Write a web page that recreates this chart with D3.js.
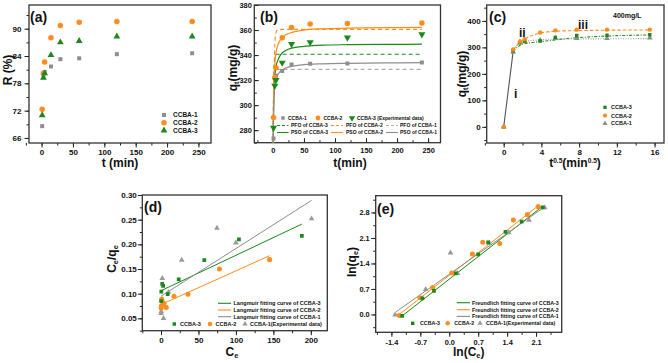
<!DOCTYPE html>
<html>
<head>
<meta charset="utf-8">
<script src="https://cdn.jsdelivr.net/npm/d3@7"></script>
<style>
  body { margin: 0; background: #fff; }
  text { font-family: "Liberation Sans", Arial, sans-serif; font-weight: bold; fill: #111; }
  .axis line { stroke: #222; }
</style>
</head>
<body>
<svg id="chart" width="668" height="363"></svg>
<script>
const GRAY = '#8e8e8e', ORANGE = '#ff8c1e', GREEN = '#1b8a1b';

// ---- (a) removal vs time
const aTime = [1, 3, 5, 15, 30, 60, 120, 240];
const aR1 = [68.6, 79.9, 80.5, 81.7, 83.3, 83.5, 84.4, 84.6];
const aR2 = [72.3, 80.2, 82.7, 88.0, 90.7, 91.4, 91.6, 91.6];
const aR3 = [71.0, 79.2, 80.2, 84.2, 87.0, 87.3, 88.3, 88.3];

// ---- (b) kinetics, experimental
const bTime = [1, 3, 5, 15, 30, 60, 120, 240];
const bQ1 = [273.4, 322.0, 323.5, 327.2, 332.5, 333.0, 333.3, 334.0];
const bQ2 = [290.1, 321.9, 329.9, 353.9, 362.1, 364.8, 365.3, 365.6];
const bQ3 = [281.9, 315.5, 320.0, 333.9, 348.8, 350.1, 354.0, 356.5];
// fitted curves
const fitTime = [0.3, 1, 2, 3, 5, 8, 12, 20, 30, 50, 80, 120, 180, 240];
const psoQ1 = [262, 290, 308, 315, 321, 324.5, 327, 329.5, 331, 332.3, 333, 333.4, 333.7, 333.9];
const psoQ2 = [262, 305, 325, 333, 342, 348, 352, 356, 358, 360, 361, 361.5, 362, 362.2];
const psoQ3 = [262, 295, 315, 323, 331, 336, 340, 343.5, 345.5, 347, 348, 348.3, 348.5, 348.7];
const pfoTime = [0.3, 1, 2, 3, 4, 6, 10, 240];
const pfoQ1 = [262, 305, 320, 326, 327.8, 328.5, 328.6, 328.6];
const pfoQ2 = [262, 300, 330, 347, 355, 359.5, 360.5, 360.5];
const pfoQ3 = [262, 310, 330, 337, 339.5, 340.6, 340.7, 340.7];

// ---- (c) intraparticle diffusion
const cX = [0, 1, 1.732, 2.236, 3.873, 5.477, 7.746, 10.954, 15.492];
const cQ1 = [0, 282, 321, 322, 327, 335, 334, 334, 336];
const cQ2 = [0, 292, 322, 331, 356, 364, 367, 367, 367];
const cQ3 = [0, 287, 317, 325, 324, 337, 345, 346, 347.5];
const cLineX1 = [1, 1.732, 3, 5.5, 15.5];
const cLineY1 = [283, 318, 326, 331, 333];
const cLineX2 = [1, 1.5, 2.236, 3.873, 6, 15.5];
const cLineY2 = [290, 312, 331, 354, 362, 366];
const cLineX3 = [1, 2, 4, 8, 15.5];
const cLineY3 = [285, 312, 322, 337, 347];

// ---- (d) Langmuir
const dC3 = [0.3, 0.4, 1.6, 2.8, 8.9, 23.6, 57.8, 104, 188];
const dV3 = [0.085, 0.104, 0.120, 0.116, 0.099, 0.129, 0.168, 0.210, 0.217];
const dC2 = [0.2, 0.5, 1.0, 2.5, 4.0, 7.0, 17.3, 36, 78, 145];
const dV2 = [0.071, 0.075, 0.089, 0.082, 0.080, 0.072, 0.095, 0.099, 0.150, 0.169];
const dC1 = [0.1, 0.3, 0.5, 1.7, 3.3, 9.9, 27.6, 74.7, 100, 201];
const dV1 = [0.060, 0.064, 0.087, 0.131, 0.050, 0.103, 0.168, 0.233, 0.203, 0.252];
const dFitC3 = [0, 188], dFitV3 = [0.106, 0.241];
const dFitC2 = [0, 145], dFitV2 = [0.078, 0.177];
const dFitC1 = [0, 201], dFitV1 = [0.095, 0.289];

// ---- (e) Freundlich
const eX3 = [-1.14, -0.65, -0.37, 0.16, 0.70, 0.94, 1.36, 1.75, 2.26];
const eY3 = [-0.04, 0.44, 0.65, 1.13, 1.65, 1.98, 2.27, 2.55, 2.94];
const eX2 = [-1.21, -0.71, -0.40, 0.06, 0.56, 0.81, 1.22, 1.55, 1.89, 2.15];
const eY2 = [-0.03, 0.46, 0.74, 1.14, 1.66, 1.98, 1.95, 2.59, 2.74, 2.96];
const eX1 = [-1.31, -0.57, 0.03, 0.20, 0.97, 1.44, 1.93, 2.31];
const eY1 = [-0.01, 0.69, 1.69, 1.13, 1.96, 2.25, 2.59, 2.93];
const eFitX3 = [-1.14, 2.26], eFitY3 = [-0.04, 2.97];
const eFitX2 = [-1.21, 2.15], eFitY2 = [0.0, 2.98];
const eFitX1 = [-1.29, 2.29], eFitY1 = [0.07, 2.94];

const svg = d3.select('#chart');
let clipId = 0;

function makePanel(p) {
  const x = d3.scaleLinear().domain(p.xDomain).range([p.left, p.right]);
  const y = d3.scaleLinear().domain(p.yDomain).range([p.bottom, p.top]);
  const g = svg.append('g');
  const dir = p.inward ? -1 : 1;

  const xa = g.append('g').attr('class', 'axis').attr('transform', `translate(0,${p.bottom})`).attr('font-size', p.fs);
  xa.append('g').call(d3.axisBottom(x).tickValues(p.xMinor).tickSize(2.5 * dir).tickFormat(''));
  xa.append('g').call(d3.axisBottom(x).tickValues(p.xTicks).tickSize(4.5 * dir).tickPadding(p.xPad).tickFormat(p.xFmt));
  const ya = g.append('g').attr('class', 'axis').attr('transform', `translate(${p.left},0)`).attr('font-size', p.fs);
  ya.append('g').call(d3.axisLeft(y).tickValues(p.yMinor).tickSize(2.5 * dir).tickFormat(''));
  ya.append('g').call(d3.axisLeft(y).tickValues(p.yTicks).tickSize(4.5 * dir).tickPadding(p.yPad).tickFormat(p.yFmt));
  g.selectAll('.domain').remove();
  g.selectAll('.axis text').attr('font-size', p.fs).attr('font-family', null);

  g.append('rect')
    .attr('x', p.left).attr('y', p.top)
    .attr('width', p.right - p.left).attr('height', p.bottom - p.top)
    .attr('fill', 'none').attr('stroke', '#333').attr('stroke-width', 1.3);

  const id = 'clip' + (clipId++);
  g.append('clipPath').attr('id', id).append('rect')
    .attr('x', p.left).attr('y', p.top)
    .attr('width', p.right - p.left).attr('height', p.bottom - p.top);
  const plot = g.append('g').attr('clip-path', `url(#${id})`);

  g.append('text').attr('x', p.letter[0]).attr('y', p.letter[1])
    .attr('font-size', 14).text(p.name);

  return { g, plot, x, y };
}

function symbolPath(type, size) {
  const t = { square: d3.symbolSquare, circle: d3.symbolCircle, triangle: d3.symbolTriangle, down: d3.symbolTriangle }[type];
  return d3.symbol().type(t).size(size)();
}

function points(P, xs, ys, type, color, size) {
  P.plot.selectAll(null).data(xs.map((v, i) => [v, ys[i]])).enter()
    .append('path')
    .attr('d', symbolPath(type, size))
    .attr('transform', d => `translate(${P.x(d[0])},${P.y(d[1])})` + (type === 'down' ? ' rotate(180)' : ''))
    .attr('fill', color);
}

function curve(P, xs, ys, color, dash, width, smooth) {
  const line = d3.line().x(d => P.x(d[0])).y(d => P.y(d[1]));
  if (smooth) line.curve(d3.curveMonotoneX);
  P.plot.append('path')
    .datum(xs.map((v, i) => [v, ys[i]]))
    .attr('d', line)
    .attr('fill', 'none').attr('stroke', color)
    .attr('stroke-width', width || 1.2)
    .attr('stroke-dasharray', dash || null);
}

function legendMark(g, x, y, type, color, size) {
  g.append('path').attr('d', symbolPath(type, size))
    .attr('transform', `translate(${x},${y})` + (type === 'down' ? ' rotate(180)' : ''))
    .attr('fill', color);
}
function legendLine(g, x1, x2, y, color, dash) {
  g.append('line').attr('x1', x1).attr('x2', x2).attr('y1', y).attr('y2', y)
    .attr('stroke', color).attr('stroke-width', 1.1).attr('stroke-dasharray', dash || null);
}
function legendText(g, x, y, s, size) {
  g.append('text').attr('x', x).attr('y', y).attr('dy', '0.35em').attr('font-size', size).text(s);
}

// label helper with subscript / superscript parts: [[text, 'sub'|'sup'|null], ...]
function richLabel(g, x, y, parts, size, rotate) {
  const t = g.append('text').attr('text-anchor', 'middle').attr('font-size', size)
    .attr('transform', `translate(${x},${y})` + (rotate ? ' rotate(-90)' : ''));
  parts.forEach(([s, kind]) => {
    const ts = t.append('tspan').text(s);
    if (kind === 'sub') ts.attr('font-size', size * 0.62).attr('baseline-shift', '-25%');
    if (kind === 'sup') ts.attr('font-size', size * 0.55).attr('baseline-shift', '55%');
  });
  return t;
}

const range = (a, b, s) => d3.range(a, b + s / 2, s);
const fix1 = d => (Math.abs(d) < 1e-9 ? 0 : d).toFixed(1);

// ================= (a)
const A = makePanel({
  left: 29, right: 211, top: 5, bottom: 143,
  xDomain: [-20, 270], yDomain: [64.9, 95.2],
  xTicks: range(0, 250, 50), xMinor: range(-25, 250, 25),
  yTicks: range(66, 90, 6), yMinor: range(66, 93, 3),
  fs: 8, xPad: 2, yPad: 3,
  name: '(a)', letter: [30, 22]
});
points(A, aTime, aR1, 'square', GRAY, 16);
points(A, aTime, aR2, 'circle', ORANGE, 24);
points(A, aTime, aR3, 'triangle', GREEN, 20);
legendMark(A.g, 164, 115, 'square', GRAY, 16);
legendMark(A.g, 164, 122.7, 'circle', ORANGE, 24);
legendMark(A.g, 164, 130.5, 'triangle', GREEN, 20);
legendText(A.g, 173, 115, 'CCBA-1', 6.5);
legendText(A.g, 173, 122.7, 'CCBA-2', 6.5);
legendText(A.g, 173, 130.5, 'CCBA-3', 6.5);
richLabel(A.g, 120, 167, [['t (min)']], 12);
richLabel(A.g, 12, 70, [['R (%)']], 12, true);

// ================= (b)
const B = makePanel({
  left: 254.3, right: 440.5, top: 5, bottom: 142.7,
  xDomain: [-30, 270], yDomain: [270, 380],
  xTicks: range(0, 250, 50), xMinor: range(-25, 250, 25),
  yTicks: range(280, 380, 20), yMinor: range(270, 380, 10),
  fs: 7.4, inward: true, xPad: 5, yPad: 2.5,
  name: '(b)', letter: [260, 22]
});
curve(B, pfoTime, pfoQ3, GREEN, '4,3', 1.1, true);
curve(B, pfoTime, pfoQ2, ORANGE, '4,3', 1.1, true);
curve(B, pfoTime, pfoQ1, '#b0b0b0', '4,3', 1.1, true);
curve(B, fitTime, psoQ3, GREEN, null, 1.2, true);
curve(B, fitTime, psoQ2, ORANGE, null, 1.2, true);
curve(B, fitTime, psoQ1, GRAY, null, 1.2, true);
points(B, bTime, bQ1, 'square', GRAY, 16);
points(B, bTime, bQ2, 'circle', ORANGE, 24);
points(B, bTime, bQ3, 'down', GREEN, 22);
legendMark(B.g, 283, 118, 'square', GRAY, 12);
legendMark(B.g, 318, 118, 'circle', ORANGE, 18);
legendMark(B.g, 352, 118, 'down', GREEN, 18);
legendText(B.g, 288, 118, 'CCBA-1', 5);
legendText(B.g, 323.5, 118, 'CCBA-2', 5);
legendText(B.g, 357, 118, 'CCBA-3 (Experimental data)', 5);
const bRows = [[125.5, 'PFO', '3,2'], [132.5, 'PSO', null]];
bRows.forEach(([yy, kind, dash]) => {
  legendLine(B.g, 277, 288.5, yy, GREEN, dash);
  legendText(B.g, 291, yy, `${kind} of CCBA-3`, 5);
  legendLine(B.g, 331, 343, yy, ORANGE, dash);
  legendText(B.g, 346, yy, `${kind} of CCBA-2`, 5);
  legendLine(B.g, 386, 398, yy, kind === 'PFO' ? '#b0b0b0' : GRAY, dash);
  legendText(B.g, 400, yy, `${kind} of CCBA-1`, 5);
});
richLabel(B.g, 350, 167, [['t(min)']], 12);
richLabel(B.g, 237, 68, [['q'], ['t', 'sub'], ['(mg/g)']], 12, true);

// ================= (c)
const Cp = makePanel({
  left: 486.7, right: 664, top: 5, bottom: 143,
  xDomain: [-1.8, 17], yDomain: [-61, 460],
  xTicks: range(0, 16, 4), xMinor: range(-2, 16, 2),
  yTicks: range(0, 400, 100), yMinor: range(-50, 450, 50),
  fs: 8, xPad: 2, yPad: 1.5,
  name: '(c)', letter: [489, 22]
});
curve(Cp, [cX[0], cX[1]], [cQ1[0], 284], '#555', null, 1.1);
curve(Cp, cLineX3, cLineY3, GREEN, '3,1.5,1,1.5', 1.1, true);
curve(Cp, cLineX1, cLineY1, '#a0a0a0', '1,1.5', 1.1, true);
curve(Cp, cLineX2, cLineY2, ORANGE, '3.5,2', 1.1, true);
points(Cp, cX, cQ1, 'triangle', GRAY, 14);
points(Cp, cX, cQ3, 'square', GREEN, 12);
points(Cp, cX, cQ2, 'circle', ORANGE, 15);
Cp.g.append('text').attr('x', 613).attr('y', 18).attr('font-size', 7).text('400mg/L');
Cp.g.append('text').attr('x', 514).attr('y', 98).attr('font-size', 12).text('i');
Cp.g.append('text').attr('x', 519).attr('y', 37).attr('font-size', 12).text('ii');
Cp.g.append('text').attr('x', 578).attr('y', 29).attr('font-size', 12).text('iii');
legendMark(Cp.g, 605, 107.3, 'square', GREEN, 11);
legendMark(Cp.g, 605, 115.6, 'circle', ORANGE, 14);
legendMark(Cp.g, 605, 123.5, 'triangle', GRAY, 12);
legendText(Cp.g, 611, 107.3, 'CCBA-3', 5.5);
legendText(Cp.g, 611, 115.6, 'CCBA-2', 5.5);
legendText(Cp.g, 611, 123.5, 'CCBA-1', 5.5);
richLabel(Cp.g, 575, 167, [['t'], ['0.5', 'sup'], ['(min'], ['0.5', 'sup'], [')']], 12);
richLabel(Cp.g, 466, 74, [['q'], ['t', 'sub'], ['(mg/g)']], 12, true);

// ================= (d)
const D = makePanel({
  left: 142.3, right: 327.3, top: 195, bottom: 330.7,
  xDomain: [-25, 222], yDomain: [0.025, 0.30],
  xTicks: range(0, 200, 50), xMinor: range(-25, 200, 25),
  yTicks: range(0.05, 0.30, 0.05), yMinor: range(0.025, 0.30, 0.025),
  xFmt: d3.format('d'), yFmt: d3.format('.2f'),
  fs: 8, xPad: 2.5, yPad: 1,
  name: '(d)', letter: [144, 212]
});
curve(D, dFitC3, dFitV3, GREEN, null, 1);
curve(D, dFitC2, dFitV2, ORANGE, null, 1);
curve(D, dFitC1, dFitV1, GRAY, null, 1);
points(D, dC1, dV1, 'triangle', '#999', 14);
points(D, dC2, dV2, 'circle', ORANGE, 20);
points(D, dC3, dV3, 'square', GREEN, 14);
[[303.3, GREEN, '3'], [310, ORANGE, '2'], [316.7, GRAY, '1']].forEach(([yy, col, n]) => {
  legendLine(D.g, 218, 231, yy, col);
  legendText(D.g, 233.5, yy, `Langmuir fitting curve of CCBA-${n}`, 5.5);
});
legendMark(D.g, 174.3, 324, 'square', GREEN, 12);
legendText(D.g, 180, 324, 'CCBA-3', 5.5);
legendMark(D.g, 210, 324, 'circle', ORANGE, 16);
legendText(D.g, 215.5, 324, 'CCBA-2', 5.5);
legendMark(D.g, 245, 324, 'triangle', '#999', 12);
legendText(D.g, 250, 324, 'CCBA-1(Experimental data)', 5.5);
richLabel(D.g, 232, 356, [['C'], ['e', 'sub']], 12);
richLabel(D.g, 116, 259, [['C'], ['e', 'sub'], ['/q'], ['e', 'sub']], 12, true);

// ================= (e)
const E = makePanel({
  left: 375.7, right: 561.7, top: 195.7, bottom: 332.3,
  xDomain: [-1.78, 2.72], yDomain: [-0.49, 3.26],
  xTicks: range(-1.4, 2.1, 0.7), xMinor: range(-1.75, 2.45, 0.35),
  yTicks: range(0, 2.8, 0.7), yMinor: range(-0.35, 3.15, 0.35),
  xFmt: fix1, yFmt: fix1,
  fs: 7.4, xPad: 2.5, yPad: 1.5,
  name: '(e)', letter: [377, 214]
});
curve(E, eFitX3, eFitY3, GREEN, null, 1);
curve(E, eFitX2, eFitY2, ORANGE, null, 1);
curve(E, eFitX1, eFitY1, GRAY, null, 1);
points(E, eX1, eY1, 'triangle', '#999', 14);
points(E, eX2, eY2, 'circle', ORANGE, 20);
points(E, eX3, eY3, 'square', GREEN, 14);
[[302.7, GREEN, '3'], [309.7, ORANGE, '2'], [316.4, GRAY, '1']].forEach(([yy, col, n]) => {
  legendLine(E.g, 456.7, 470, yy, col);
  legendText(E.g, 472, yy, `Freundlich fitting curve of CCBA-${n}`, 5.3);
});
legendMark(E.g, 412.7, 323.3, 'square', GREEN, 12);
legendText(E.g, 420, 323.3, 'CCBA-3', 5.3);
legendMark(E.g, 447.7, 323.3, 'circle', ORANGE, 16);
legendText(E.g, 454.3, 323.3, 'CCBA-2', 5.3);
legendMark(E.g, 480, 323.3, 'triangle', '#999', 12);
legendText(E.g, 486, 323.3, 'CCBA-1(Experimental data)', 5.3);
richLabel(E.g, 468.7, 356, [['ln(C'], ['e', 'sub'], [')']], 12);
richLabel(E.g, 356, 262, [['ln(q'], ['e', 'sub'], [')']], 12, true);
</script>
</body>
</html>
